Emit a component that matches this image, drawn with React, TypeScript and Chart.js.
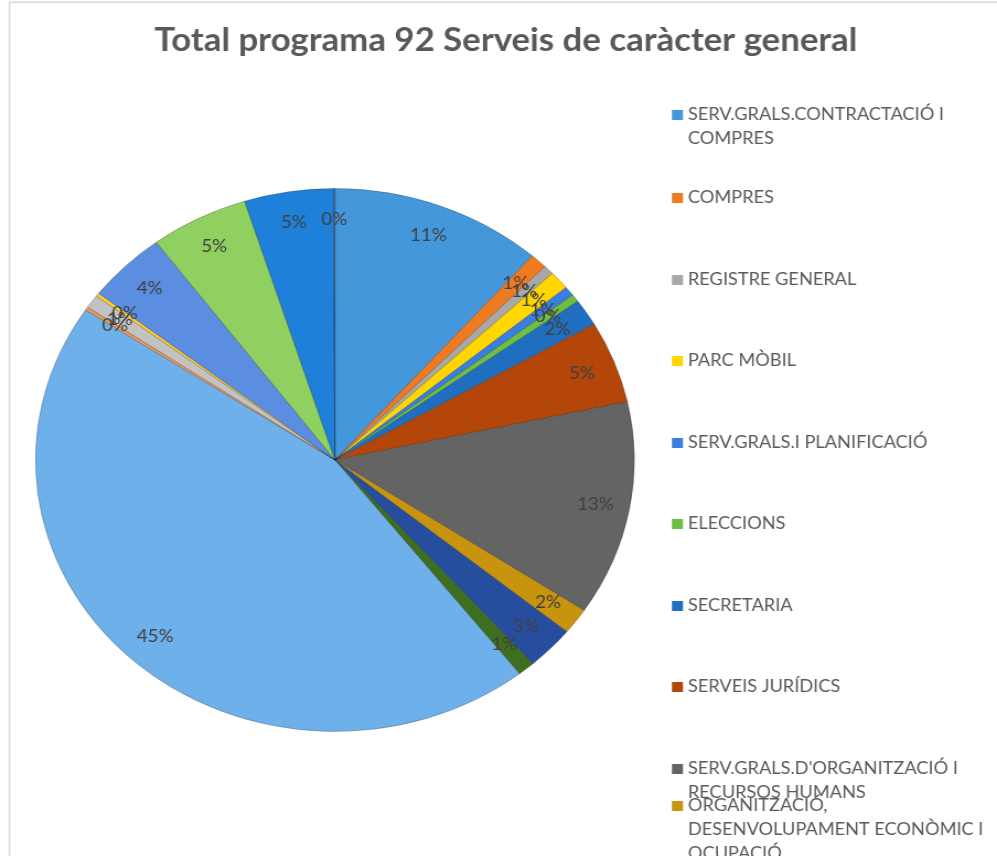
import React, { useEffect, useRef } from "react";
import { Chart, registerables } from "chart.js";

Chart.register(...registerables);

const TITLE = "Total programa 92 Serveis de caràcter general";

const categories = [
  "SERV.GRALS.CONTRACTACIÓ I COMPRES",
  "COMPRES",
  "REGISTRE GENERAL",
  "PARC MÒBIL",
  "SERV.GRALS.I PLANIFICACIÓ",
  "ELECCIONS",
  "SECRETARIA",
  "SERVEIS JURÍDICS",
  "SERV.GRALS.D'ORGANITZACIÓ I RECURSOS HUMANS",
  "ORGANITZACIÓ, DESENVOLUPAMENT ECONÒMIC I OCUPACIÓ",
  "SERVEIS ECONÒMICS",
  "ARXIU MUNICIPAL",
  "INFORMÀTICA",
  "COMUNICACIÓ",
  "ATENCIÓ CIUTADANA",
  "PATRIMONI",
  "INTERVENCIÓ",
  "TRESORERIA",
  "PARTICIPACIÓ CIUTADANA",
  "ALTRES SERVEIS GENERALS",
];

// share of total (percent)
const shares = [
  11.46, 0.92, 0.56, 1.1, 0.57, 0.45, 1.6, 4.9, 12.8, 1.55,
  2.6, 0.93, 44.9, 0.2, 0.8, 0.2, 4.3, 5.3, 4.8, 0.08,
];

const sliceColors = [
  "#4597dc", "#f07a20", "#a8a8a8", "#ffd600", "#3a7fe0",
  "#6dbf40", "#1f6ebf", "#b4460a", "#646464", "#c8940e",
  "#274e9e", "#3e6e20", "#6eb0ea", "#f1975a", "#c2c2c2",
  "#ffcd33", "#5b8de0", "#8fd060", "#1e80d8", "#1d5fa8",
];

const W = 997;
const H = 856;
const SX = 1.103;
const IW = Math.round(W / SX);

const LEGEND_Y = [115, 198, 280, 361, 443, 524, 606, 687, 769, 806];

function wrap(ctx: CanvasRenderingContext2D, text: string, maxW: number): string[] {
  const words = text.split(" ");
  const lines: string[] = [];
  let cur = "";
  for (const w of words) {
    const t = cur ? cur + " " + w : w;
    if (ctx.measureText(t).width > maxW && cur) {
      lines.push(cur);
      cur = w;
    } else cur = t;
  }
  if (cur) lines.push(cur);
  return lines;
}

export default function App() {
  const ref = useRef<HTMLCanvasElement>(null);

  useEffect(() => {
    const canvas = ref.current!;
    const total = shares.reduce((a, b) => a + b, 0);

    const decor = {
      id: "decor",
      beforeDraw(chart: any) {
        const ctx = chart.ctx as CanvasRenderingContext2D;
        ctx.save();
        ctx.fillStyle = "#ffffff";
        ctx.fillRect(0, 0, IW, H);
        ctx.strokeStyle = "#d9d9d9";
        ctx.lineWidth = 1.5;
        ctx.beginPath();
        ctx.moveTo(8.6, H);
        ctx.lineTo(8.6, 2.2);
        ctx.lineTo(IW, 2.2);
        ctx.stroke();
        // title
        ctx.font = "bold 32px Lato";
        ctx.fillStyle = "#595959";
        ctx.textBaseline = "middle";
        ctx.textAlign = "center";
        const tw = ctx.measureText(TITLE).width;
        const target = 703 / SX;
        ctx.translate(506 / SX, 41);
        ctx.scale(target / tw, 1);
        ctx.fillText(TITLE, 0, 0);
        ctx.restore();
      },
      afterDatasetsDraw(chart: any) {
        const ctx = chart.ctx as CanvasRenderingContext2D;
        const meta = chart.getDatasetMeta(0);
        ctx.save();
        ctx.font = "17px Lato";
        ctx.fillStyle = "#404040";
        ctx.textAlign = "center";
        ctx.textBaseline = "middle";
        meta.data.forEach((arc: any, i: number) => {
          const p = arc.getProps(["x", "y", "startAngle", "endAngle", "outerRadius"], true);
          const mid = (p.startAngle + p.endAngle) / 2;
          const r = p.outerRadius * 0.885;
          const txt = Math.round((shares[i] / total) * 100) + "%";
          ctx.fillText(txt, p.x + Math.cos(mid) * r, p.y + Math.sin(mid) * r);
        });
        // legend
        ctx.font = "16.5px Lato";
        ctx.textAlign = "left";
        categories.forEach((c, i) => {
          const y = i < LEGEND_Y.length ? LEGEND_Y[i] : LEGEND_Y[LEGEND_Y.length - 1] + 82 * (i - LEGEND_Y.length + 1);
          ctx.fillStyle = sliceColors[i];
          ctx.fillRect(672 / SX, y - 5, 10, 10);
          ctx.fillStyle = "#595959";
          const lines = wrap(ctx, c, 280);
          lines.forEach((ln, k) => ctx.fillText(ln, 688 / SX, y + k * 24));
        });
        ctx.restore();
      },
    };

    const cx = 335 / SX;
    const R = 272;
    const chart = new Chart(canvas, {
      type: "pie",
      data: {
        labels: categories,
        datasets: [
          {
            data: shares,
            backgroundColor: sliceColors,
            borderColor: "rgba(0,0,0,0.22)",
            borderWidth: 1,
          },
        ],
      },
      options: {
        responsive: false,
        animation: false,
        layout: {
          padding: {
            left: cx - R,
            right: IW - (cx + R),
            top: 460 - R,
            bottom: H - (460 + R),
          },
        },
        plugins: {
          legend: { display: false },
          title: { display: false },
          tooltip: { enabled: false },
        },
      },
      plugins: [decor],
    });
    return () => chart.destroy();
  }, []);

  return (
    <div style={{ position: "absolute", left: 0, top: 0, width: W, height: H, overflow: "hidden", background: "#fff" }}>
      <canvas ref={ref} width={IW} height={H} style={{ width: W + "px", height: H + "px", display: "block" }} />
    </div>
  );
}
